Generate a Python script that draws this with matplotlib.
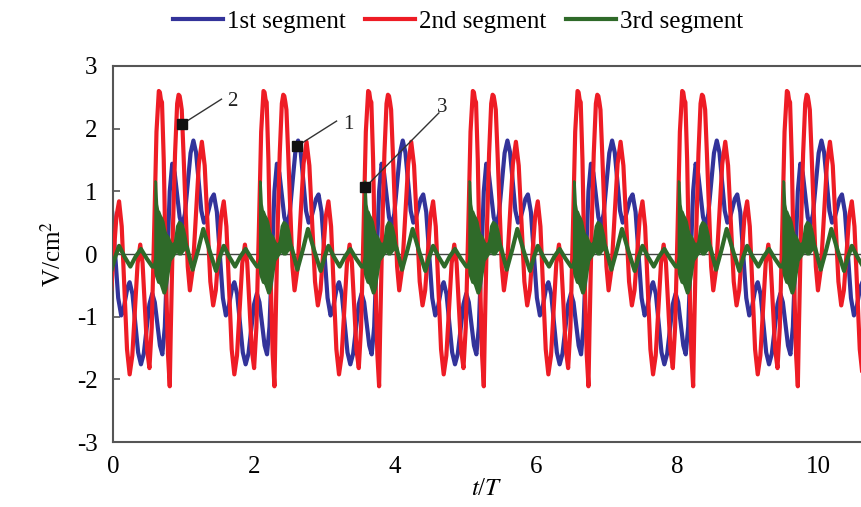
import numpy as np
import matplotlib
matplotlib.use('Agg')
import matplotlib.pyplot as plt

plt.rcParams['font.family'] = ['Liberation Serif', 'DejaVu Serif']
plt.rcParams['mathtext.fontset'] = 'stix'
plt.rcParams['axes.unicode_minus'] = False

# 原图读数: 信号按周期重复, 相位零点取红线高峰 (t/T)
period = 1.483
first_peak = 0.652
x_max = 10.6

blue_phase = [0.05, 0.085, 0.12, 0.155, 0.19, 0.225, 0.26, 0.295, 0.33, 0.37,
              0.41, 0.45, 0.49, 0.5275, 0.565, 0.6025, 0.64, 0.675, 0.71, 0.745,
              0.78, 0.8225, 0.865, 0.9075, 0.95, 0.98, 1.01, 1.04, 1.07, 1.11,
              1.15, 1.19, 1.23, 1.27, 1.31, 1.35, 1.39, 1.426, 1.4625, 1.499]
blue_val = [-1.60, -1.16, -0.08, 1.00, 1.44, 1.29, 0.94, 0.59, 0.44, 0.64,
            1.12, 1.61, 1.81, 1.62, 1.15, 0.69, 0.50, 0.57, 0.72, 0.88,
            0.95, 0.67, -0.01, -0.70, -0.98, -0.90, -0.71, -0.53, -0.45, -0.64,
            -1.10, -1.57, -1.76, -1.59, -1.19, -0.80, -0.63, -0.77, -1.12, -1.46]

red_phase = [0.0, 0.015, 0.03, 0.045, 0.07, 0.10, 0.13, 0.155, 0.17, 0.20,
             0.23, 0.26, 0.28, 0.295, 0.31, 0.325, 0.35, 0.38, 0.41, 0.44,
             0.4825, 0.525, 0.5675, 0.61, 0.65, 0.69, 0.73, 0.77, 0.8075, 0.845,
             0.8825, 0.92, 0.9575, 0.995, 1.0325, 1.07, 1.1075, 1.145, 1.1825, 1.22,
             1.2525, 1.285, 1.3175, 1.35, 1.3825, 1.4175, 1.45]
red_val = [2.60, 2.58, 2.46, 2.42, 1.50, -0.30, -1.60, -2.11, -1.20, 0.40,
           1.60, 2.40, 2.54, 2.52, 2.42, 2.30, 1.60, 0.70, -0.20, -0.58,
           -0.23, 0.60, 1.44, 1.79, 1.41, 0.49, -0.44, -0.82, -0.58, 0.01,
           0.60, 0.84, 0.44, -0.54, -1.52, -1.92, -1.62, -0.89, -0.15, 0.15,
           -0.14, -0.84, -1.53, -1.82, -1.17, 0.39, 1.95]

green_phase = [-0.06, 0.0, 0.10, 0.20, 0.31, 0.40, 0.48, 0.56, 0.63, 0.72,
               0.81, 0.865, 0.92, 1.0, 1.08, 1.155, 1.23, 1.31, 1.39, 1.415]
green_val = [-0.20, 0.10, -0.10, 0.05, 0.30, 0.10, -0.25, 0.08, 0.40, 0.05,
             -0.27, -0.05, 0.13, -0.05, -0.20, -0.04, 0.08, -0.07, -0.20, -0.20]

# 第3段高频振荡区 (上下包络)
burst_phase = [-0.058, -0.055, -0.045, -0.03, -0.015, 0.0, 0.02, 0.04, 0.06, 0.08,
               0.10, 0.12, 0.14, 0.16, 0.19, 0.22, 0.25, 0.28, 0.31, 0.34, 0.37, 0.40]
burst_top = [-0.15, 1.17, 1.15, 0.80, 0.70, 0.68, 0.62, 0.58, 0.52, 0.40,
             0.32, 0.30, 0.26, 0.20, 0.15, 0.20, 0.45, 0.52, 0.50, 0.45, 0.30, 0.10]
burst_bottom = [-0.20, -0.30, -0.35, -0.40, -0.45, -0.45, -0.48, -0.55, -0.62, -0.62,
                -0.55, -0.40, -0.25, -0.10, -0.05, 0.0, 0.05, 0.0, 0.0, 0.05, 0.08, 0.10]

# 标注点: (方块位置, 引线终点, 文字位置, 文字)
marks = [((0.98, 2.07), (1.54, 2.47), (1.70, 2.44), '2'),
         ((2.61, 1.72), (3.17, 2.12), (3.34, 2.07), '1'),
         ((3.58, 1.07), (4.62, 2.25), (4.67, 2.34), '3')]

blue_c = '#33339a'
red_c = '#ee1c25'
green_c = '#2f6a29'


def tile(phase, *vals):
    xs = []
    outs = [[] for _ in vals]
    for k in range(-1, 8):
        xs.extend(first_peak + k * period + p for p in phase)
        for o, v in zip(outs, vals):
            o.extend(v)
    return (np.array(xs),) + tuple(np.array(o) for o in outs)


fig = plt.figure(figsize=(8.61, 5.07), dpi=100)
ax = fig.add_axes([0.131, 0.128, 0.869, 0.742])

bx, by = tile(blue_phase, blue_val)
rx, ry = tile(red_phase, red_val)
gx, gy = tile(green_phase, green_val)
fx, ftop, fbot = tile(burst_phase, burst_top, burst_bottom)

ax.axhline(0, color='#444444', lw=1.0, zorder=1)
ax.plot(bx, by, color=blue_c, lw=3.0, label='1st segment', zorder=2)
ax.plot(rx, ry, color=red_c, lw=3.0, label='2nd segment', zorder=3)
ax.plot(gx, gy, color=green_c, lw=3.0, label='3rd segment', zorder=4)
n = len(burst_phase)
for k in range(9):
    s = slice(k * n, (k + 1) * n)
    ax.fill_between(fx[s], fbot[s], ftop[s], color=green_c, lw=1.5, zorder=4)

for (px, py), (lx, ly), (tx, ty), txt in marks:
    ax.plot([px, lx], [py, ly], color='#333333', lw=1.0, zorder=6)
    ax.plot(px, py, marker='s', ms=6.5, color='#111111', zorder=7)
    ax.text(tx, ty, txt, fontsize=15, ha='center', va='center', color='#222222', zorder=7)

ax.set_xlim(0, x_max)
ax.set_ylim(-3, 3)
ax.set_xticks([0, 2, 4, 6, 8, 10])
ax.set_yticks(range(-3, 4))
ax.tick_params(axis='x', length=0, pad=10, labelsize=18)
ax.tick_params(axis='y', direction='in', length=5, width=1.2, pad=11, labelsize=18, color='#555555')
for side in ['left', 'top', 'bottom']:
    ax.spines[side].set_color('#555555')
    ax.spines[side].set_linewidth(1.5)
ax.spines['right'].set_visible(False)

ax.set_xlabel(r'$t$/$T$', fontsize=18, labelpad=0)
ax.set_ylabel(r'V/cm$^{2}$', fontsize=18, labelpad=8)

fig.legend(loc='center', bbox_to_anchor=(0.532, 0.958), ncol=3, frameon=False,
           fontsize=18, handlelength=2.0, handletextpad=0.15, columnspacing=0.8)

fig.savefig('out.png', dpi=100, facecolor='white')
